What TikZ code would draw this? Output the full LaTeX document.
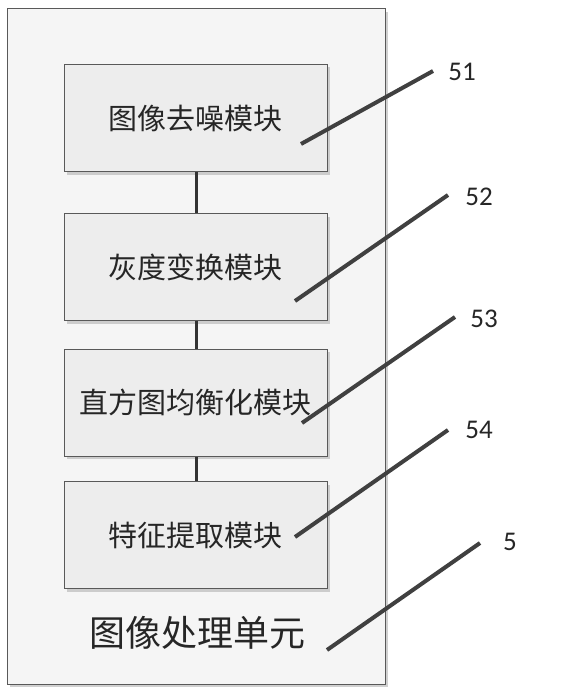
\documentclass[tikz,border=0pt]{standalone}
\usepackage{fontspec}
\setmainfont{Carlito}
\newfontfamily\cjk{Noto Sans CJK SC}
\usetikzlibrary{shadows}
\begin{document}
\begin{tikzpicture}[x=1pt,y=-1pt,
  shade/.style={drop shadow={shadow xshift=3pt,shadow yshift=-3pt,fill=black!30,opacity=0.6}},
  outerbox/.style={draw=black!65,line width=1pt,fill=black!4,minimum width=378pt,minimum height=675pt,inner sep=0pt,shade},
  modbox/.style={draw=black!65,line width=1pt,fill=black!7,minimum width=263pt,minimum height=107pt,inner sep=0pt,shade,font=\cjk\fontsize{29}{29}\selectfont,text=black!85},
  link/.style={draw=black!80,line width=3pt},
  leader/.style={draw=black!75,line width=4pt},
  num/.style={font=\fontsize{27}{27}\selectfont,text=black!85,inner sep=0pt}]
\useasboundingbox (0,0) rectangle (560,695);
\fill[white] (0,0) rectangle (560,695);
\node[outerbox] (outer) at (196,346.5) {};
\node[modbox] (m1) at (195.5,118) {图像去噪模块};
\node[modbox] (m2) at (195.5,267) {灰度变换模块};
\node[modbox] (m3) at (195.5,402.5) {直方图均衡化模块};
\node[modbox] (m4) at (195.5,535) {特征提取模块};
\node[font=\cjk\fontsize{36}{36}\selectfont,text=black!85,inner sep=0pt] (unit) at (197,633) {图像处理单元};
\draw[link] (m1.south -| 196,0) -- (m2.north -| 196,0);
\draw[link] (m2.south -| 196,0) -- (m3.north -| 196,0);
\draw[link] (m3.south -| 196,0) -- (m4.north -| 196,0);
\node[num] (n51) at (462,72) {51};
\node[num] (n52) at (479,197) {52};
\node[num] (n53) at (484,319) {53};
\node[num] (n54) at (479,430) {54};
\node[num] (n5) at (510,542) {5};
\coordinate (a1) at (301,144); \coordinate (b1) at (433,71);
\coordinate (a2) at (295,301); \coordinate (b2) at (448,195);
\coordinate (a3) at (302,423); \coordinate (b3) at (455,317);
\coordinate (a4) at (295,537); \coordinate (b4) at (448,430);
\coordinate (a5) at (327,650); \coordinate (b5) at (480,543);
\draw[leader] (a1) -- (b1);
\draw[leader] (a2) -- (b2);
\draw[leader] (a3) -- (b3);
\draw[leader] (a4) -- (b4);
\draw[leader] (a5) -- (b5);
\end{tikzpicture}
\end{document}
